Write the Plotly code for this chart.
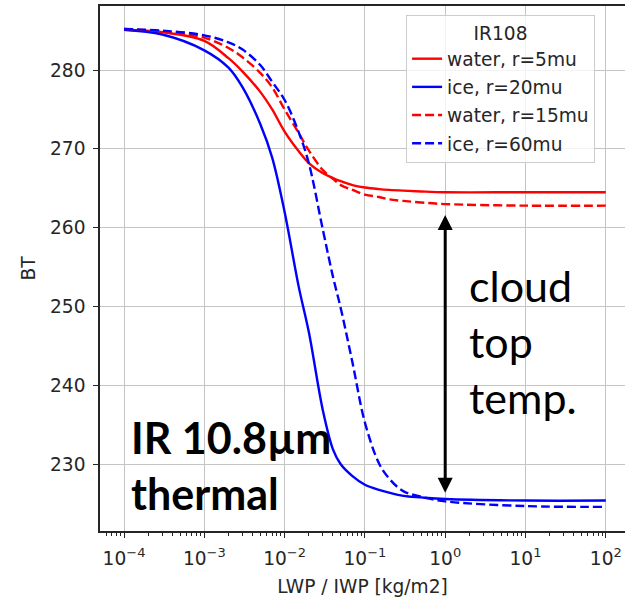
import plotly.graph_objects as go

# LWP / IWP sample points [kg/m2]
lwp = [1e-4, 3e-4, 1e-3, 2e-3, 3e-3, 5e-3, 7e-3, 1e-2, 1.5e-2, 2e-2, 3e-2, 4e-2,
       5e-2, 7e-2, 0.1, 0.15, 0.2, 0.3, 0.5, 1, 10, 100]

# brightness temperatures
bt_water_r5 = [285.1, 284.8, 283.7, 281.5, 279.8, 277.2, 275.0, 272.2, 269.7, 268.2,
               266.9, 266.3, 265.9, 265.4, 265.1, 264.9, 264.8, 264.7, 264.6, 264.5,
               264.5, 264.5]
bt_ice_r20 = [285.1, 284.5, 282.5, 280.3, 277.8, 273.1, 268.9, 262.0, 252.5, 246.8,
              236.8, 231.9, 230.0, 228.5, 227.4, 226.75, 226.4, 226.0, 225.8, 225.6,
              225.4, 225.4]
bt_water_r15 = [285.2, 284.9, 284.1, 282.8, 281.6, 279.6, 277.8, 275.0, 272.0, 269.8,
                267.3, 266.2, 265.4, 264.8, 264.2, 263.9, 263.6, 263.4, 263.2, 263.0,
                262.8, 262.8]
bt_ice_r60 = [285.2, 285.0, 284.4, 283.5, 282.6, 280.6, 278.5, 276.2, 272.1, 268.2,
              259.7, 253.8, 249.8, 242.9, 235.3, 230.1, 228.2, 226.6, 225.9, 225.3,
              224.7, 224.6]

series_names = ["water, r=5mu", "ice, r=20mu", "water, r=15mu", "ice, r=60mu"]
series_values = [bt_water_r5, bt_ice_r20, bt_water_r15, bt_ice_r60]
series_colors = ["#ff0000", "#0000ff", "#ff0000", "#0000ff"]
series_dash = ["solid", "solid", "9px,4px", "9px,4px"]

xtick_vals = [1e-4, 1e-3, 1e-2, 1e-1, 1, 10, 100]
xtick_text = ["10<sup>\u22124</sup>", "10<sup>\u22123</sup>", "10<sup>\u22122</sup>",
              "10<sup>\u22121</sup>", "10<sup>0</sup>", "10<sup>1</sup>", "10<sup>2</sup>"]
minor_vals = [m * 10.0 ** e for e in range(-5, 3) for m in range(2, 10)]

# arrow: cloud top temperature difference at LWP = 1
arrow_x = 1
arrow_top = 261.6
arrow_bottom = 226.2

font = "DejaVu Sans"
fs = 18.6

fig = go.Figure()
for name, vals, col, dash in zip(series_names, series_values, series_colors, series_dash):
    fig.add_trace(go.Scatter(
        x=lwp, y=vals, mode="lines", name=name, legendgroup=name,
        line=dict(color=col, width=2.4, dash=dash, shape="spline", smoothing=1.0),
    ))

axis_line = "#262626"
fig.update_layout(
    width=625, height=600,
    margin=dict(l=100, r=0, t=6, b=69, autoexpand=False),
    paper_bgcolor="white", plot_bgcolor="white",
    font=dict(family=font, size=fs, color="#262626"),
    showlegend=True,
    legend=dict(
        x=0.583, y=0.983, xanchor="left", yanchor="top",
        bgcolor="rgba(255,255,255,0.8)", bordercolor="#cccccc", borderwidth=1,
        font=dict(family=font, size=fs, color="#262626"),
        title=dict(text="IR108", side="top center", font=dict(family=font, size=fs)),
        tracegroupgap=1,
    ),
    xaxis=dict(
        type="log", range=[-4.299, 2.239], tickvals=xtick_vals, ticktext=xtick_text,
        showgrid=True, gridcolor="#c4c4c4", gridwidth=1.2,
        showline=True, linecolor=axis_line, linewidth=1.5, mirror=True,
        ticks="outside", ticklen=5, tickwidth=1.3, tickcolor=axis_line,
        tickfont=dict(family=font, size=fs), ticklabelstandoff=5,
        minor=dict(tickvals=minor_vals, ticks="outside", ticklen=3, tickwidth=1,
                   tickcolor=axis_line, showgrid=False),
        title=dict(text="LWP / IWP [kg/m2]", font=dict(family=font, size=fs), standoff=12),
        zeroline=False, automargin=False,
    ),
    yaxis=dict(
        range=[221.54, 288.12], tickvals=[230, 240, 250, 260, 270, 280],
        showgrid=True, gridcolor="#c4c4c4", gridwidth=1.2,
        showline=True, linecolor=axis_line, linewidth=1.5, mirror=False,
        ticks="outside", ticklen=5, tickwidth=1.3, tickcolor=axis_line,
        tickfont=dict(family=font, size=fs), ticklabelstandoff=4,
        title=dict(text="BT", font=dict(family=font, size=fs), standoff=10),
        zeroline=False, automargin=False,
    ),
)

fig.add_annotation(
    x=0, y=arrow_top, ax=0, ay=arrow_bottom,
    xref="x", yref="y", axref="x", ayref="y",
    text="", showarrow=True, arrowhead=2, startarrowhead=2,
    arrowside="end+start", arrowwidth=3, arrowsize=1, startarrowsize=1,
    arrowcolor="black", standoff=0, startstandoff=0,
)

fig.add_annotation(
    x=0.0552, y=0.02, xref="paper", yref="paper", xanchor="left", yanchor="bottom",
    text="<b>IR 10.8µm<br>thermal</b>", showarrow=False, align="left",
    font=dict(family="Lato", size=43, color="black"),
)
fig.add_annotation(
    x=0.699, y=0.52, xref="paper", yref="paper", xanchor="left", yanchor="top",
    text="cloud<br>top<br>temp.", showarrow=False, align="left",
    font=dict(family="Lato", size=43, color="black"),
)

fig.write_html("out.html")
